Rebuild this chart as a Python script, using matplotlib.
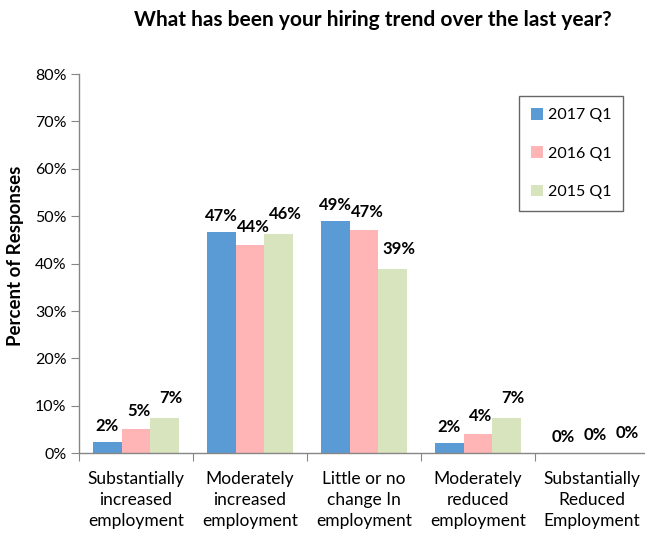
import numpy as np
import matplotlib.pyplot as plt
from matplotlib.ticker import FixedLocator, FuncFormatter

plt.rcParams['font.family'] = ['Lato', 'DejaVu Sans']

categories = ['Substantially\nincreased\nemployment',
              'Moderately\nincreased\nemployment',
              'Little or no\nchange In\nemployment',
              'Moderately\nreduced\nemployment',
              'Substantially\nReduced\nEmployment']
series_names = ['2017 Q1', '2016 Q1', '2015 Q1']
q1_2017 = [2.3, 46.6, 48.9, 2.2, 0.0]
q1_2016 = [5.1, 43.9, 47.0, 4.1, 0.0]
q1_2015 = [7.4, 46.3, 38.8, 7.4, 0.0]
colors = ['#5B9BD5', '#FFB5B5', '#D7E4BD']

W, H = 645, 533
fig = plt.figure(figsize=(W / 100, H / 100), dpi=100)
ax = fig.add_axes([79 / W, 1 - 453.3 / H, (649 - 79) / W, (453.3 - 74) / H])

x = np.arange(len(categories))
width = 0.254
# label nudges in pixels (dx, dy above bar top)
nudges = [(0, 16), (3, 18), (6, 20)]
for i, (name, vals) in enumerate(zip(series_names, [q1_2017, q1_2016, q1_2015])):
    pos = x + (i - 1) * width
    ax.bar(pos, vals, width=width, color=colors[i], label=name, zorder=2)
    dx, dy = nudges[i]
    for px, v in zip(pos, vals):
        ax.annotate(f'{v:.0f}%', (px, v), xytext=(dx * 0.72, dy * 0.72),
                    textcoords='offset points', ha='center', va='center',
                    fontsize=12, fontweight='bold', color='black')

ax.set_xlim(-0.5, len(categories) - 0.5)
ax.set_ylim(0, 80)
ax.yaxis.set_major_locator(FixedLocator(np.arange(0, 81, 10)))
ax.yaxis.set_major_formatter(FuncFormatter(lambda v, p: f'{v:.0f}%'))

# category boundaries get the tick marks, labels sit between them
ax.set_xticks(np.arange(-0.5, len(categories), 1.0))
ax.set_xticklabels([])
ax.set_xticks(x, minor=True)
ax.set_xticklabels(categories, minor=True, fontsize=12.5, linespacing=1.38)
ax.tick_params(axis='x', which='minor', length=0, pad=13)
ax.tick_params(axis='x', which='major', length=6, color='#868686', direction='out')
ax.tick_params(axis='y', length=6, color='#868686', direction='out', labelsize=11.5, pad=3)

for side in ['top', 'right']:
    ax.spines[side].set_visible(False)
for side in ['left', 'bottom']:
    ax.spines[side].set_color('#868686')
    ax.spines[side].set_linewidth(1.0)

leg = ax.legend(loc='upper left', bbox_to_anchor=(519 / W, 1 - 96 / H), bbox_transform=fig.transFigure,
                fontsize=11.5, frameon=True, fancybox=False, handlelength=0.75, handleheight=0.75,
                handletextpad=0.3, labelspacing=1.5, borderpad=0.75, borderaxespad=0)
leg.get_frame().set_edgecolor('#404040')
leg.get_frame().set_linewidth(1.0)

fig.text(373 / W, 1 - 20 / H, 'What has been your hiring trend over the last year?',
         ha='center', va='center', fontsize=15, fontweight='bold')
fig.text(16 / W, 1 - 256 / H, 'Percent of Responses', rotation=90,
         ha='center', va='center', fontsize=13.5, fontweight='bold')

fig.savefig('out.png', dpi=100)
